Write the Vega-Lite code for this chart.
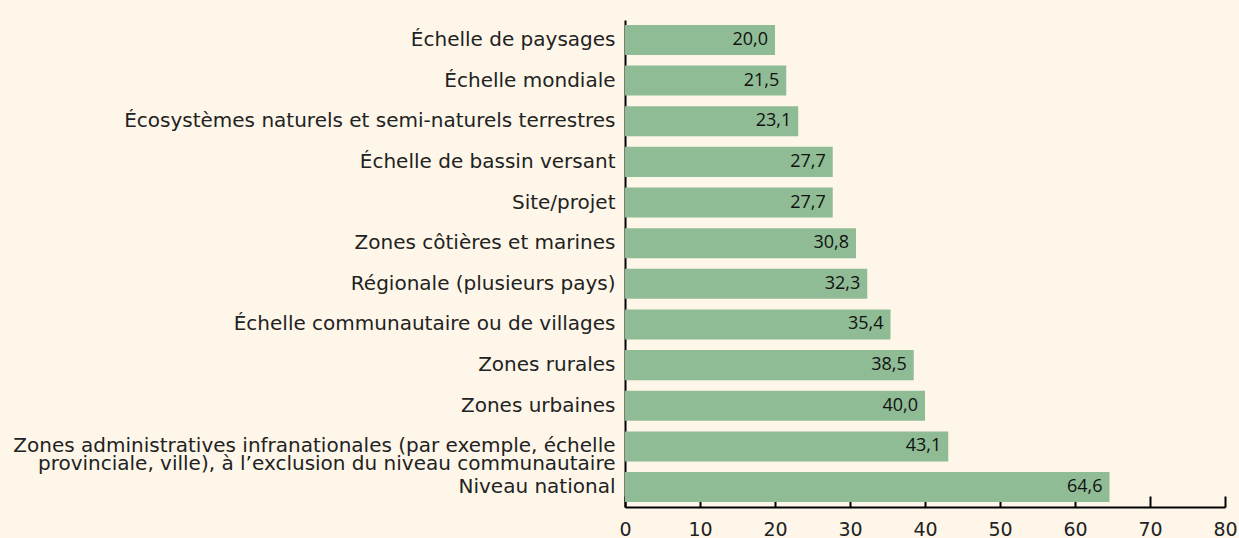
{
  "$schema": "https://vega.github.io/schema/vega-lite/v6.json",
  "autosize": "none",
  "width": 600,
  "height": 487,
  "padding": {"left": 625, "top": 20, "right": 14, "bottom": 31},
  "background": "#fdf6e9",
  "data": {
    "values": [
      {"cat": "Échelle de paysages", "value": 20.0},
      {"cat": "Échelle mondiale", "value": 21.5},
      {"cat": "Écosystèmes naturels et semi-naturels terrestres", "value": 23.1},
      {"cat": "Échelle de bassin versant", "value": 27.7},
      {"cat": "Site/projet", "value": 27.7},
      {"cat": "Zones côtières et marines", "value": 30.8},
      {"cat": "Régionale (plusieurs pays)", "value": 32.3},
      {"cat": "Échelle communautaire ou de villages", "value": 35.4},
      {"cat": "Zones rurales", "value": 38.5},
      {"cat": "Zones urbaines", "value": 40.0},
      {"cat": "Zones administratives infranationales (par exemple, échelle\nprovinciale, ville), à l’exclusion du niveau communautaire", "value": 43.1},
      {"cat": "Niveau national", "value": 64.6}
    ]
  },
  "encoding": {
    "y": {
      "field": "cat", "type": "nominal", "sort": null,
      "scale": {"paddingInner": 0.26, "paddingOuter": 0.12},
      "axis": {
        "title": null, "ticks": false, "domainColor": "#000", "domainWidth": 2,
        "labelExpr": "split(datum.label, '\\n')",
        "labelFont": "DejaVu Sans", "labelFontSize": 20, "labelColor": "#222",
        "labelPadding": 10, "labelLineHeight": 18, "labelLimit": 700
      }
    },
    "x": {
      "field": "value", "type": "quantitative",
      "scale": {"domain": [0, 80]},
      "axis": {
        "title": null, "values": [0, 10, 20, 30, 40, 50, 60, 70, 80],
        "grid": false, "domainColor": "#000", "domainWidth": 2,
        "tickColor": "#000", "tickWidth": 2, "tickSize": -11,
        "labelFont": "DejaVu Sans", "labelFontSize": 19, "labelColor": "#222",
        "labelPadding": 24, "labelFlush": false
      }
    }
  },
  "layer": [
    {"mark": {"type": "bar", "color": "#8fbc94"}},
    {
      "mark": {"type": "text", "align": "right", "dx": -7, "font": "Open Sans", "fontSize": 18, "color": "#111"},
      "encoding": {"text": {"field": "value", "type": "quantitative", "format": ".1f"}}
    }
  ],
  "config": {
    "view": {"stroke": null},
    "locale": {"number": {"decimal": ",", "thousands": " ", "grouping": [3], "currency": ["", " €"]}}
  }
}
